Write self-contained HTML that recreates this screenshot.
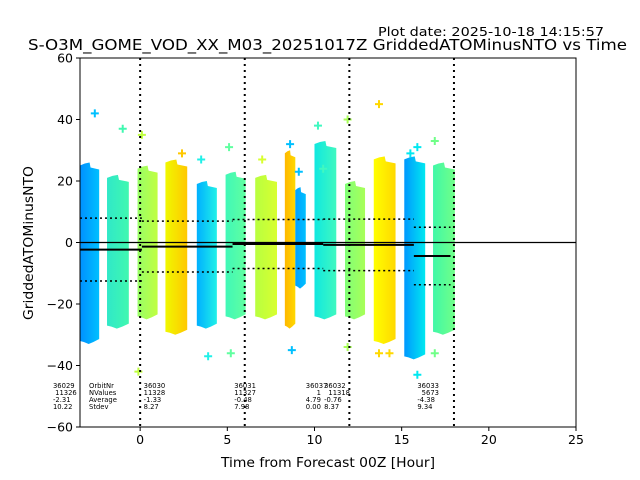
<!DOCTYPE html>
<html><head><meta charset="utf-8"><style>
body{margin:0;background:#fff;}
svg{display:block;font-family:"DejaVu Sans","Liberation Sans",sans-serif;}
</style></head><body>
<svg id="chart" width="640" height="480" viewBox="0 0 640 480">
<text x="378" y="36" font-size="12" textLength="226" lengthAdjust="spacingAndGlyphs">Plot date: 2025-10-18 14:15:57</text>
<text x="28" y="50" font-size="15.5" textLength="599" lengthAdjust="spacingAndGlyphs">S-O3M_GOME_VOD_XX_M03_20251017Z GriddedATOMinusNTO vs Time</text>
<g id="bands"></g>
<g id="lines"></g>
<g id="axes"></g>
<g id="stats" font-size="6.8"></g>
<text x="221" y="467" font-size="13" textLength="214" lengthAdjust="spacingAndGlyphs">Time from Forecast 00Z [Hour]</text>
<text transform="translate(33,320) rotate(-90)" font-size="13" textLength="154" lengthAdjust="spacingAndGlyphs">GriddedATOMinusNTO</text>
</svg>
<script>
const bandStart=[-3.45,-1.9,-0.15,1.45,3.25,4.9,6.6,8.3,8.9,10.0,11.75,13.4,15.15,16.8];
const bandEnd=[-2.35,-0.65,1.0,2.7,4.4,6.05,7.85,8.9,9.5,11.25,12.9,14.65,16.35,18.05];
const bandMax=[26,22,25,27,20,23,22,30,18,33,20,28,28,26];
const bandMin=[-33,-28,-25,-30,-28,-25,-25,-28,-15,-25,-25,-33,-38,-30];
const bandColorA=['#0090ff','#30e8c8','#98ff68','#f0f800','#00b0ff','#40f8b8','#b8ff40','#ffb800','#00a0ff','#10e8e0','#80ff78','#ffff00','#0098ff','#40f8a8'];
const bandColorB=['#00c0ff','#40f8b0','#c0ff40','#ffc800','#20f0e8','#60ffa0','#d8ff30','#ffd800','#00c0ff','#40f8c0','#a8ff58','#ffd800','#00e8f0','#70ff88'];
const outX=[-2.6,-1.0,0.1,-0.1,2.4,3.5,3.9,5.1,5.2,7.0,8.6,8.7,9.1,10.2,10.5,11.9,11.9,13.7,13.7,14.3,15.5,15.9,15.9,16.9,16.9];
const outY=[42,37,35,-42,29,27,-37,31,-36,27,32,-35,23,38,24,40,-34,45,-36,-36,29,31,-43,33,-36];
const segStart=[-3.45,0.1,5.3,10.5,15.7];
const segEnd=[0.1,5.3,10.5,15.7,17.8];
const segMean=[-2.31,-1.33,-0.48,-0.76,-4.38];
const segStd=[10.22,8.27,7.98,8.37,9.34];
const vLines=[0,6,12,18];
const xTicks=[0,5,10,15,20,25];
const yTicks=[-60,-40,-20,0,20,40,60];
const statX=[-5.0,0.2,5.4,9.5,10.55,15.9];
const statLines=[['36029',' 11326','-2.31','10.22'],['36030','11328','-1.33','8.27'],['36031','11327','-0.48','7.98'],['36037','     1','4.79','0.00'],['36032','  11318','-0.76','8.37'],['36033','  5673','-4.38','9.34']];
const statLabels=['OrbitNr','NValues','Average','Stdev'];

const L=80,R=576,T=58,B=427,X0=-3.45,X1=25,Y0=-60,Y1=60;
const xs=v=>L+(v-X0)/(X1-X0)*(R-L);
const ys=v=>B-(v-Y0)/(Y1-Y0)*(B-T);
const NS='http://www.w3.org/2000/svg';
function mk(t,p,a){const e=document.createElementNS(NS,t);for(const k in a)e.setAttribute(k,a[k]);p.appendChild(e);return e;}
const svg=document.getElementById('chart');
const defs=mk('defs',svg,{});
const gB=document.getElementById('bands');
bandStart.forEach((s,i)=>{
  const g=mk('linearGradient',defs,{id:'g'+i,x1:'0',x2:'1',y1:'0',y2:'0'});
  mk('stop',g,{offset:'0','stop-color':bandColorA[i]});
  mk('stop',g,{offset:'1','stop-color':bandColorB[i]});
  const x0=xs(s),x1=xs(bandEnd[i]),yt=ys(bandMax[i]),yb=ys(bandMin[i]),w=x1-x0;
  const d=`M${x0},${yt+3}L${x0+w*0.25},${yt+1}L${x0+w*0.5},${yt}L${x0+w*0.55},${yt+5}L${x1},${yt+7}L${x1},${yb-5}L${x0+w*0.7},${yb-2}L${x0+w*0.45},${yb}L${x0+w*0.2},${yb-2}L${x0},${yb-3}Z`;
  const r=mk('path',gB,{d:d,fill:'url(#g'+i+')'});
  
  
});
outX.forEach((x,i)=>{
  let c='#00c0ff';
  for(let j=0;j<bandStart.length;j++){if(x>=bandStart[j]-0.3&&x<=bandEnd[j]+0.3){c=bandColorB[j];}}
  const p=mk('path',gB,{d:`M${xs(x)-4},${ys(outY[i])}h8M${xs(x)},${ys(outY[i])-4}v8`,stroke:c,'stroke-width':2});
  
  
});
const gL=document.getElementById('lines');
const zl=mk('line',gL,{x1:L,x2:R,y1:ys(0),y2:ys(0),stroke:'#000','stroke-width':1.2});


vLines.forEach(v=>{
  const l=mk('line',gL,{x1:xs(v),x2:xs(v),y1:T,y2:B,stroke:'#000','stroke-width':2,'stroke-dasharray':'2,4'});
  
  
});
segStart.forEach((s,i)=>{
  const m=mk('line',gL,{x1:xs(s),x2:xs(segEnd[i]),y1:ys(segMean[i]),y2:ys(segMean[i]),stroke:'#000','stroke-width':2});
  
  
  [1,-1].forEach(k=>{
    const v=segMean[i]+k*segStd[i];
    const d=mk('line',gL,{x1:xs(s),x2:xs(segEnd[i]),y1:ys(v),y2:ys(v),stroke:'#000','stroke-width':1.5,'stroke-dasharray':'2,3'});
    
    
  });
});
const gA=document.getElementById('axes');
const fr=mk('rect',gA,{x:L,y:T,width:R-L,height:B-T,fill:'none',stroke:'#000','stroke-width':1});


xTicks.forEach(v=>{
  mk('line',gA,{x1:xs(v),x2:xs(v),y1:B,y2:B+4,stroke:'#000'});
  const t=mk('text',gA,{x:xs(v),y:B+17,'font-size':12.5,'text-anchor':'middle'});
  t.textContent=v;
  
  
});
yTicks.forEach(v=>{
  mk('line',gA,{x1:L-4,x2:L,y1:ys(v),y2:ys(v),stroke:'#000'});
  const t=mk('text',gA,{x:L-7,y:ys(v)+4.5,'font-size':12.5,'text-anchor':'end'});
  t.textContent=v<0?'\u2212'+(-v):v;
  
  
});
const gS=document.getElementById('stats');
statX.forEach((x,i)=>{
  statLines[i].forEach((s,k)=>{
    const t=mk('text',gS,{x:xs(x),y:388+k*7});
    t.style.whiteSpace='pre';
    t.textContent=s;
    
    
  });
});
statLabels.forEach((s,k)=>{
  const t=mk('text',gS,{x:89,y:388+k*7});
  t.textContent=s;
  
  
});
</script>
</body></html>
